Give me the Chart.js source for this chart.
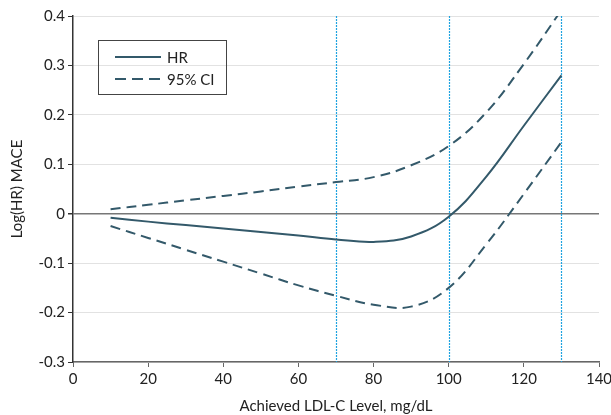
<!DOCTYPE html>
<html>
<head>
<meta charset="utf-8">
<script src="https://cdn.jsdelivr.net/npm/chart.js@4"></script>
<style>
  html, body { margin: 0; padding: 0; background: #fff; }
  #wrap { width: 611px; height: 415px; }
</style>
</head>
<body>
<div id="wrap"><canvas id="hrChart"></canvas></div>
<script>
// LDL-C levels (mg/dL) where the curves were read
const ldlLevels = [10, 20, 30, 40, 50, 60, 70, 80, 90, 100, 110, 120, 130];
const logHR   = [-0.008, -0.016, -0.023, -0.030, -0.037, -0.044, -0.052, -0.057, -0.046, -0.006, 0.075, 0.178, 0.280];
const upperCI = [0.009, 0.018, 0.027, 0.036, 0.045, 0.055, 0.064, 0.074, 0.098, 0.137, 0.205, 0.303, 0.412];
const lowerCI = [-0.025, -0.049, -0.073, -0.097, -0.121, -0.145, -0.166, -0.184, -0.188, -0.150, -0.062, 0.040, 0.145];
const refLines = [70, 100, 130];
const legendLabels = ['HR', '95% CI'];

const lineColor = '#33596a';
const fontFamily = 'Lato, "Open Sans", sans-serif';

function toPoints(ys) {
    return ldlLevels.map((x, i) => ({ x: x, y: ys[i] }));
}

// dotted vertical reference lines
const refLinePlugin = {
    id: 'refLines',
    beforeDatasetsDraw(chart) {
        const ctx = chart.ctx;
        const area = chart.chartArea;
        const xs = chart.scales.x;
        ctx.save();
        ctx.strokeStyle = '#1fa3e0';
        ctx.lineWidth = 1.2;
        ctx.setLineDash([2, 1]);
        refLines.forEach(v => {
            const px = Math.round(xs.getPixelForValue(v)) + 0.5;
            ctx.beginPath();
            ctx.moveTo(px, area.top);
            ctx.lineTo(px, area.bottom);
            ctx.stroke();
        });
        ctx.restore();
    }
};

// boxed legend in the upper left
const boxLegendPlugin = {
    id: 'boxLegend',
    afterDraw(chart) {
        const ctx = chart.ctx;
        ctx.save();
        ctx.strokeStyle = '#444';
        ctx.lineWidth = 1;
        ctx.strokeRect(98.5, 40.5, 128, 54);
        ctx.font = '15px ' + fontFamily;
        ctx.fillStyle = '#222';
        ctx.textBaseline = 'middle';
        const rows = [57, 79];
        legendLabels.forEach((label, i) => {
            const ds = chart.data.datasets[i];
            ctx.strokeStyle = ds.borderColor;
            ctx.lineWidth = ds.borderWidth;
            ctx.setLineDash(ds.borderDash ? [11, 6] : []);
            ctx.beginPath();
            ctx.moveTo(115, rows[i]);
            ctx.lineTo(161, rows[i]);
            ctx.stroke();
            ctx.fillText(label, 167, rows[i] + 1);
        });
        ctx.restore();
    }
};

const config = {
    type: 'line',
    data: {
        datasets: [
            {
                label: legendLabels[0],
                data: toPoints(logHR),
                borderColor: lineColor,
                borderWidth: 2,
                pointRadius: 0,
                tension: 0.4
            },
            {
                label: legendLabels[1],
                data: toPoints(upperCI),
                borderColor: lineColor,
                borderWidth: 2,
                borderDash: [10, 6],
                pointRadius: 0,
                tension: 0.4
            },
            {
                label: legendLabels[1],
                data: toPoints(lowerCI),
                borderColor: lineColor,
                borderWidth: 2,
                borderDash: [10, 6],
                pointRadius: 0,
                tension: 0.4
            }
        ]
    },
    options: {
        responsive: true,
        maintainAspectRatio: false,
        animation: false,
        layout: { padding: { top: 16, left: 0, bottom: 0, right: 0 } },
        plugins: {
            legend: { display: false },
            tooltip: { enabled: false }
        },
        scales: {
            x: {
                type: 'linear',
                min: 0,
                max: 140,
                afterFit(scale) {
                    scale.height = 53;
                    scale.paddingRight = 12;
                },
                ticks: {
                    stepSize: 20,
                    color: '#222',
                    font: { family: fontFamily, size: 15 },
                    padding: 3
                },
                grid: {
                    drawOnChartArea: false,
                    drawTicks: true,
                    tickLength: 5,
                    color: '#666'
                },
                border: { color: '#666', width: 1.5 },
                title: {
                    display: true,
                    text: 'Achieved LDL-C Level, mg/dL',
                    color: '#222',
                    font: { family: fontFamily, size: 15 },
                    padding: { top: 4, bottom: 0 }
                }
            },
            y: {
                min: -0.3,
                max: 0.4,
                afterFit(scale) {
                    scale.width = 73;
                },
                ticks: {
                    stepSize: 0.1,
                    color: '#222',
                    font: { family: fontFamily, size: 15 },
                    padding: 3,
                    callback: v => Math.abs(v) < 1e-9 ? '0' : v.toFixed(1)
                },
                grid: {
                    color: ctx => (ctx.tick && Math.abs(ctx.tick.value) < 1e-9) ? '#777' : '#e2e2e2',
                    lineWidth: ctx => (ctx.tick && Math.abs(ctx.tick.value) < 1e-9) ? 1.5 : 1,
                    tickColor: '#333',
                    tickLength: 5
                },
                border: { color: '#333', width: 1.5 },
                title: {
                    display: true,
                    text: 'Log(HR) MACE',
                    color: '#222',
                    font: { family: fontFamily, size: 15 },
                    padding: { top: 8, bottom: 0 }
                }
            }
        }
    },
    plugins: [refLinePlugin, boxLegendPlugin]
};

const chart = new Chart(document.getElementById('hrChart').getContext('2d'), config);
</script>
</body>
</html>
